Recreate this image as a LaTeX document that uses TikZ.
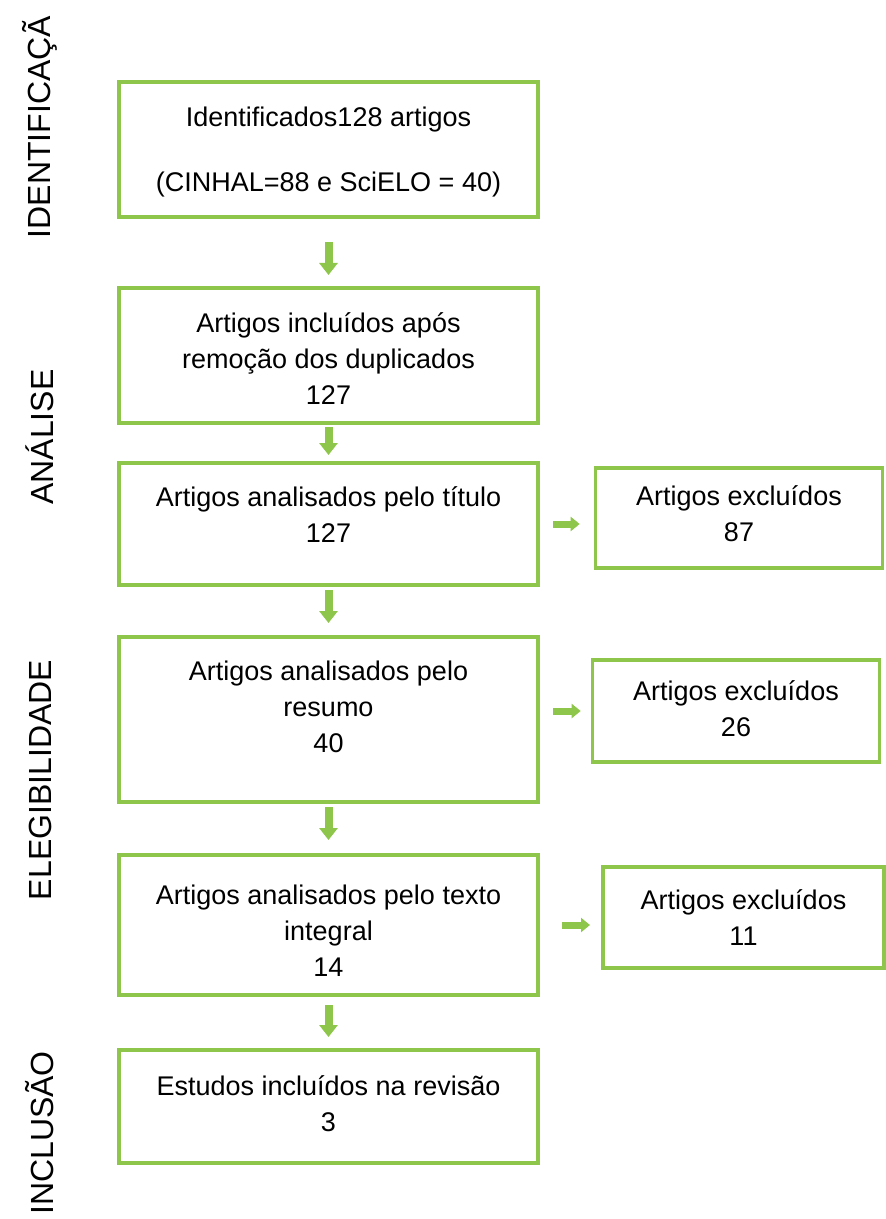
\documentclass[tikz,border=0pt]{standalone}
\usepackage{fontspec}
\setmainfont{Liberation Sans}
\usetikzlibrary{arrows.meta}
\definecolor{verdecaixa}{RGB}{141,198,75}
\tikzset{
  caixa/.style={draw=verdecaixa, line width=2.4pt, fill=white, outer sep=0pt, inner sep=0pt, minimum width=314.25pt},
  excluidos/.style={caixa, minimum width=215pt},
  texto/.style={align=center, inner sep=0pt, font=\fontsize{20.25}{27}\selectfont},
  seta/.style={draw=verdecaixa, line width=6pt, -{Triangle[length=9pt,width=13.5pt]}},
  setalado/.style={draw=verdecaixa, line width=5.25pt, -{Triangle[length=6.75pt,width=10.5pt]}},
  fase/.style={rotate=90, font=\fontsize{24}{27}\selectfont}
}
\begin{document}
\begin{tikzpicture}[x=0.75pt,y=0.75pt,yscale=-1,xscale=1]
\useasboundingbox (0,0) rectangle (885,1219);

% fases
\node[fase] (f1) at (40,127) {IDENTIFICAÇÃ};
\node[fase] (f2) at (40,437) {ANÁLISE};
\node[fase] (f3) at (40,780) {ELEGIBILIDADE};
\node[fase] (f4) at (40,1133) {INCLUSÃO};

% caixas principais
\node[caixa, minimum height=101.25pt] (b1) at (328.5,149.5) {};
\node[caixa, minimum height=101.25pt] (b2) at (328.5,355.5) {};
\node[caixa, minimum height=91.5pt] (b3) at (328.5,524) {};
\node[caixa, minimum height=123.75pt] (b4) at (328.5,719.5) {};
\node[caixa, minimum height=105pt] (b5) at (328.5,925) {};
\node[caixa, minimum height=84.75pt] (b6) at (328.5,1106.5) {};

% caixas de exclusao
\node[excluidos, minimum height=75pt] (e1) at (739,518) {};
\node[excluidos, minimum height=76.5pt] (e2) at (736,711) {};
\node[excluidos, minimum height=75.75pt, minimum width=210.75pt] (e3) at (743.5,917.5) {};

% textos
\node[texto] (t1) at (328.5,152) {Identificados128 artigos\\[21.75pt](CINHAL=88 e SciELO = 40)};
\node[texto] (t2) at (328.5,359) {Artigos incluídos após\\remoção dos duplicados\\127};
\node[texto] (t3) at (328.5,515) {Artigos analisados pelo título\\127};
\node[texto] (t4) at (328.5,707) {Artigos analisados pelo\\resumo\\40};
\node[texto] (t5) at (328.5,931) {Artigos analisados pelo texto\\integral\\14};
\node[texto] (t6) at (328.5,1104) {Estudos incluídos na revisão\\3};
\node[texto] (x1) at (739,514) {Artigos excluídos\\87};
\node[texto] (x2) at (736,709) {Artigos excluídos\\26};
\node[texto] (x3) at (743.5,918) {Artigos excluídos\\11};

% setas
\draw[seta, shorten <=18.75pt, shorten >=9.75pt] (b1) -- (b2);
\draw[seta, shorten <=3pt, shorten >=6pt] (b2) -- (b3);
\draw[seta, shorten <=3.75pt, shorten >=10.5pt] (b3) -- (b4);
\draw[seta, shorten <=3.75pt, shorten >=11.25pt] (b4) -- (b5);
\draw[seta, shorten <=7.5pt, shorten >=9.75pt] (b5) -- (b6);

\draw[setalado, shorten <=11.25pt, shorten >=12pt] (b3.east) -- (b3.east -| e1.west);
\draw[setalado, shorten <=11.25pt, shorten >=9pt] (e2.west -| b4.east) -- (e2.west);
\draw[setalado, shorten <=18pt, shorten >=9.75pt] (b5.east) -- (b5.east -| e3.west);

\end{tikzpicture}
\end{document}
